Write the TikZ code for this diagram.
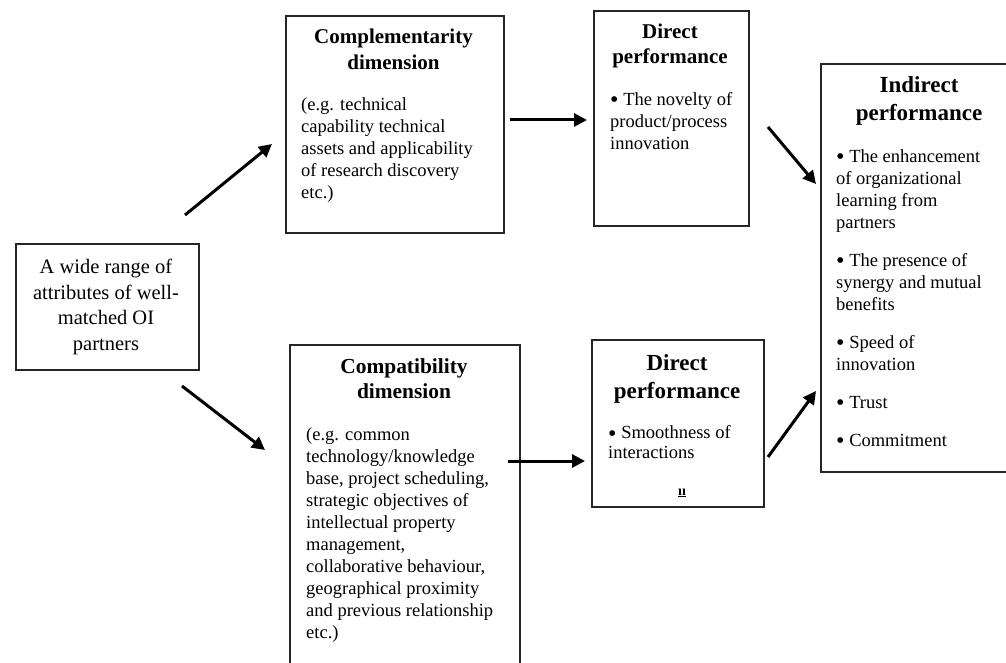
\documentclass[tikz,border=0pt]{standalone}
\usepackage{fontspec}
\usepackage{graphicx}
\setmainfont{Liberation Serif}
\usetikzlibrary{arrows.meta}
\newcommand{\bigbul}{\raisebox{-2.2pt}{\scalebox{1.3}{\textbullet}}}
\tikzset{
  box/.style={draw=black!85, line width=1.8pt, rectangle, inner sep=0pt, anchor=north west},
  body/.style={inner sep=0pt, anchor=north west, align=left, font=\fontsize{18.5}{22}\selectfont},
  head/.style={inner sep=0pt, anchor=north, align=center},
  arr/.style={line width=3pt, -{Triangle[length=13pt,width=13pt]}},
}
\begin{document}
\begin{tikzpicture}[x=1pt,y=-1pt]
\clip (0,0) rectangle (1006,663);
\fill[white] (0,0) rectangle (1006,663);
% boxes
\node[box, minimum width=183pt, minimum height=126pt] (src) at (15,243) {};
\node[box, minimum width=218pt, minimum height=217pt] (comp) at (285,15) {};
\node[box, minimum width=155pt, minimum height=215pt] (dp1) at (593,10) {};
\node[box, minimum width=200pt, minimum height=408pt] (ind) at (820,63) {};
\node[box, minimum width=230pt, minimum height=340pt] (compat) at (289,344) {};
\node[box, minimum width=172pt, minimum height=167pt] (dp2) at (591,339) {};
% texts
\node[head, font=\fontsize{20.5}{25.5}\selectfont] (srct) at (106,255.5) {\strut A wide range of\\attributes of well-\\matched OI\\partners};
\node[head, font=\bfseries\fontsize{21}{26}\selectfont] (compt) at (393.5,24.8) {\strut Complementarity\\dimension};
\node[body] (compb) at (301,94.6) {\strut(e.g. technical\\capability technical\\assets and applicability\\of research discovery\\etc.)};
\node[head, font=\bfseries\fontsize{21}{25}\selectfont] (dp1t) at (670,20.5) {\strut Direct\\performance};
\node[body] (dp1b) at (610,89.6) {\strut\bigbul{} The novelty of\\product/process\\innovation};
\node[head, font=\bfseries\fontsize{23}{28}\selectfont] (indt) at (919,72.4) {\strut Indirect\\performance};
\node[body] (indb) at (836,146.6) {\strut\bigbul{} The enhancement\\of organizational\\learning from\\partners\\[16pt]\bigbul{} The presence of\\synergy and mutual\\benefits\\[16pt]\bigbul{} Speed of\\innovation\\[16pt]\bigbul{} Trust\\[16pt]\bigbul{} Commitment};
\node[head, font=\bfseries\fontsize{21.4}{25}\selectfont] (compatt) at (404,355.5) {\strut Compatibility\\dimension};
\node[body] (compatb) at (306,424.6) {\strut(e.g. common\\technology/knowledge\\base, project scheduling,\\strategic objectives of\\intellectual property\\management,\\collaborative behaviour,\\geographical proximity\\and previous relationship\\etc.)};
\node[head, font=\bfseries\fontsize{23}{28}\selectfont] (dp2t) at (677,350.4) {\strut Direct\\performance};
\node[body, font=\fontsize{18.5}{20}\selectfont] (dp2b) at (608,424.6) {\strut\bigbul{} Smoothness of\\interactions};
\node[inner sep=0pt, anchor=base, font=\bfseries\fontsize{14}{16}\selectfont] (mark) at (682,495) {\underline{\i\i}};
% arrows
\coordinate (a1s) at (185,215); \coordinate (a1e) at (272,144);
\coordinate (a2s) at (182,386); \coordinate (a2e) at (265,450);
\coordinate (a3s) at (510,120); \coordinate (a3e) at (587,120);
\coordinate (a4s) at (508,461); \coordinate (a4e) at (585,461);
\coordinate (a5s) at (768,127); \coordinate (a5e) at (816,184);
\coordinate (a6s) at (768,457); \coordinate (a6e) at (816,391);
\draw[arr] (a1s) -- (a1e);
\draw[arr] (a2s) -- (a2e);
\draw[arr] (a3s) -- (a3e);
\draw[arr] (a4s) -- (a4e);
\draw[arr] (a5s) -- (a5e);
\draw[arr] (a6s) -- (a6e);
\end{tikzpicture}
\end{document}
